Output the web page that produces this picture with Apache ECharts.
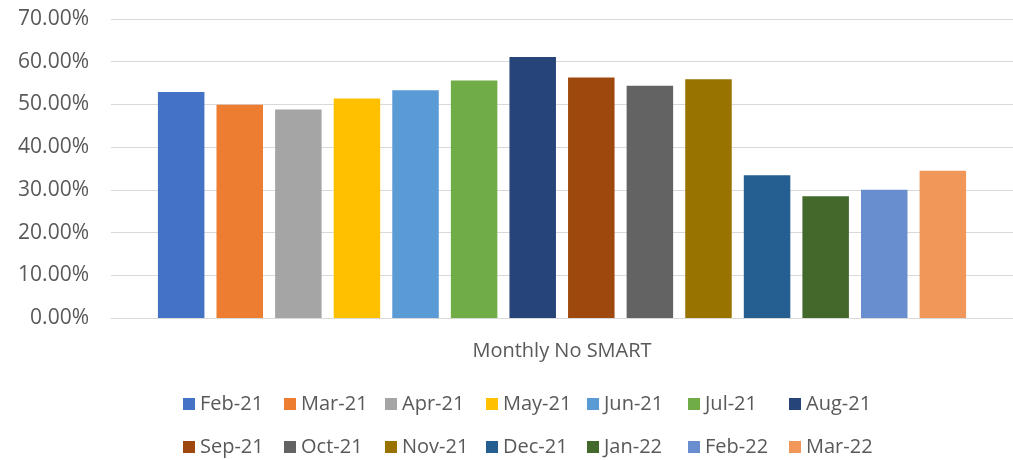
<!DOCTYPE html>
<html>
<head>
<meta charset="utf-8">
<script src="https://cdn.jsdelivr.net/npm/echarts@6/dist/echarts.min.js"></script>
<style>
  html, body { margin: 0; padding: 0; background: #fff; }
  #chart { width: 1013px; height: 460px; }
</style>
</head>
<body>
<div id="chart"></div>
<script>
// Share of cases with no SMART goals, one bar per month
const category = ['Monthly No SMART'];
const months = ['Feb-21', 'Mar-21', 'Apr-21', 'May-21', 'Jun-21', 'Jul-21', 'Aug-21',
                'Sep-21', 'Oct-21', 'Nov-21', 'Dec-21', 'Jan-22', 'Feb-22', 'Mar-22'];
const values = [52.9, 49.9, 48.8, 51.4, 53.3, 55.6, 61.1,
                56.3, 54.4, 55.9, 33.4, 28.5, 30.0, 34.5];
const colors = ['#4472C4', '#ED7D31', '#A5A5A5', '#FFC000', '#5B9BD5', '#70AD47', '#264478',
                '#9E480E', '#636363', '#997300', '#255E91', '#43682B', '#698ED0', '#F1975A'];
const yTicks = { min: 0, max: 70, interval: 10 };

const font = '"Open Sans", "Noto Sans", sans-serif';
const textColor = '#595959';

const chart = echarts.init(document.getElementById('chart'), null, { renderer: 'canvas' });

// legend laid out in two rows of seven, with equal-width labels
const legendBase = {
  left: 178,
  orient: 'horizontal',
  icon: 'rect',
  itemWidth: 12,
  itemHeight: 12,
  itemGap: 14,
  textStyle: { fontFamily: font, fontSize: 20, lineHeight: 24, color: textColor, width: 70 }
};

chart.setOption({
  animation: false,
  color: colors,
  grid: { left: 111, top: 19, width: 912, height: 299, containLabel: false },
  xAxis: {
    type: 'category',
    data: category,
    axisLine: { show: true, lineStyle: { color: '#D9D9D9', width: 1 } },
    axisTick: { show: false },
    axisLabel: { margin: 23, fontFamily: font, fontSize: 20, color: textColor }
  },
  yAxis: {
    type: 'value',
    min: yTicks.min,
    max: yTicks.max,
    interval: yTicks.interval,
    axisLine: { show: false },
    axisTick: { show: false },
    splitLine: { lineStyle: { color: '#D9D9D9', width: 1 } },
    axisLabel: {
      margin: 22,
      fontFamily: font,
      fontSize: 21,
      color: textColor,
      formatter: v => v.toFixed(2) + '%'
    }
  },
  legend: [
    Object.assign({}, legendBase, { top: 387, data: months.slice(0, 7) }),
    Object.assign({}, legendBase, { top: 430, data: months.slice(7) })
  ],
  series: months.map((m, i) => ({
    name: m,
    type: 'bar',
    data: [values[i]],
    barWidth: 46.5,
    barGap: '26%',
    itemStyle: { color: colors[i] }
  }))
});
</script>
</body>
</html>
